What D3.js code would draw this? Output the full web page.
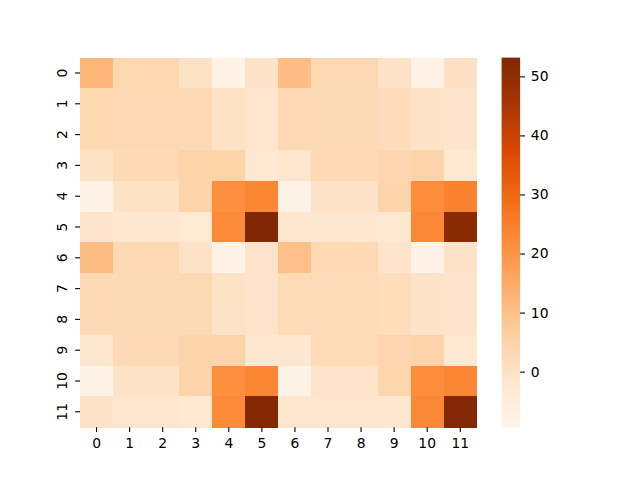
<!DOCTYPE html>
<html>
<head>
<meta charset="utf-8">
<script src="https://cdn.jsdelivr.net/npm/d3@7"></script>
<style>
  html, body { margin: 0; padding: 0; background: #fff; }
  svg { display: block; }
  text { font-family: "DejaVu Sans", sans-serif; font-size: 13.89px; fill: #000; }
</style>
</head>
<body>
<svg id="chart" width="640" height="480"></svg>
<script>
const rowLabels = ["0","1","2","3","4","5","6","7","8","9","10","11"];
const colLabels = ["0","1","2","3","4","5","6","7","8","9","10","11"];
const values = [
  [12.0, 3.8, 3.8, 0.0, -8.0, -0.5, 10.5, 3.2, 3.2, -0.5, -8.0, 0.2],
  [3.5, 3.2, 3.2, 3.0, 0.0, -1.2, 2.8, 2.6, 2.6, 1.8, -0.5, -1.0],
  [3.5, 3.2, 3.2, 3.0, 0.0, -1.2, 2.8, 2.6, 2.6, 1.8, -0.5, -1.0],
  [0.0, 3.0, 3.0, 5.0, 5.2, -2.5, -1.2, 2.8, 2.8, 4.0, 4.8, -2.5],
  [-8.0, 0.0, 0.0, 5.0, 21.5, 23.5, -8.5, -0.5, -0.5, 4.5, 22.0, 24.0],
  [-1.0, -2.0, -2.0, -3.0, 22.5, 53.0, -1.5, -2.0, -2.0, -2.5, 23.0, 51.0],
  [10.5, 3.2, 3.2, -0.5, -8.5, -1.0, 10.0, 3.0, 3.0, -1.0, -8.5, -0.5],
  [2.8, 2.6, 2.6, 2.6, 0.0, -1.0, 2.5, 2.4, 2.4, 1.5, -0.5, -1.0],
  [2.8, 2.6, 2.6, 2.6, -0.3, -1.0, 2.5, 2.3, 2.3, 1.5, -0.5, -1.0],
  [-1.5, 2.8, 2.8, 4.5, 4.8, -2.2, -2.0, 2.5, 2.5, 4.0, 5.0, -2.5],
  [-8.0, -0.5, -0.5, 4.8, 21.5, 23.5, -8.5, -1.0, -1.0, 4.2, 22.0, 23.5],
  [-0.5, -1.5, -1.5, -2.5, 22.5, 52.0, -1.5, -1.5, -1.5, -2.0, 23.0, 52.5]
];
const cbarTicks = [0, 10, 20, 30, 40, 50];
const vmin = -9.41, vmax = 53.18;

// matplotlib "Oranges" colormap (ColorBrewer 9-class, linear segments)
const orangesStops = ["#fff5eb","#fee6ce","#fdd0a2","#fdae6b","#fd8d3c","#f16913","#d94801","#a63603","#7f2704"];

(function () {
const svg = d3.select("#chart");
const mLeft = 80, mRight = 476.8, mTop = 57.6, mBottom = 427.2;
const cbLeft = 501.6, cbRight = 520.1;
const tickLen = 4.86, pad = 4.86;

const x = d3.scaleBand().domain(colLabels).range([mLeft, mRight]).padding(0);
const y = d3.scaleBand().domain(rowLabels).range([mTop, mBottom]).padding(0);
const tScale = d3.scaleLinear().domain([vmin, vmax]).range([0, 1]).clamp(true);
const cmap = d3.scaleLinear()
  .domain(orangesStops.map((_, i) => i / (orangesStops.length - 1)))
  .range(orangesStops)
  .interpolate(d3.interpolateRgb);
const color = v => cmap(tScale(v));

const cells = [];
values.forEach((row, i) => row.forEach((v, j) => cells.push({r: rowLabels[i], c: colLabels[j], v})));

svg.append("g").selectAll("rect").data(cells).join("rect")
  .attr("x", d => x(d.c))
  .attr("y", d => y(d.r))
  .attr("width", x.bandwidth() + 0.3)
  .attr("height", y.bandwidth() + 0.3)
  .attr("fill", d => color(d.v))
  .attr("shape-rendering", "crispEdges");

// x axis
const xAxis = d3.axisBottom(x).tickSize(tickLen).tickPadding(pad + 1);
const gx = svg.append("g").attr("transform", `translate(0,${mBottom})`).call(xAxis);
gx.select(".domain").remove();
gx.selectAll(".tick line").attr("stroke", "#000").attr("stroke-width", 1.1);
gx.selectAll(".tick text").attr("font-family", "DejaVu Sans").attr("font-size", "13.89px").attr("fill", "#000");

// y axis with vertical labels
const yAxis = d3.axisLeft(y).tickSize(tickLen).tickFormat("");
const gy = svg.append("g").attr("transform", `translate(${mLeft},0)`).call(yAxis);
gy.select(".domain").remove();
gy.selectAll(".tick line").attr("stroke", "#000").attr("stroke-width", 1.1);
svg.append("g").selectAll("text").data(rowLabels).join("text")
  .attr("transform", d => `translate(${mLeft - tickLen - pad - 3.7},${y(d) + y.bandwidth() / 2}) rotate(-90)`)
  .attr("text-anchor", "middle")
  .text(d => d);

// colorbar
const defs = svg.append("defs");
const grad = defs.append("linearGradient").attr("id", "cbgrad")
  .attr("x1", "0").attr("y1", "1").attr("x2", "0").attr("y2", "0");
orangesStops.forEach((c, i) => grad.append("stop")
  .attr("offset", (i / (orangesStops.length - 1) * 100) + "%").attr("stop-color", c));
svg.append("rect").attr("x", cbLeft).attr("y", mTop)
  .attr("width", cbRight - cbLeft).attr("height", mBottom - mTop)
  .attr("fill", "url(#cbgrad)");

const cy = d3.scaleLinear().domain([vmin, vmax]).range([mBottom, mTop]);
const cAxis = d3.axisRight(cy).tickValues(cbarTicks).tickSize(tickLen).tickPadding(pad + 1).tickFormat(d3.format("d"));
const gc = svg.append("g").attr("transform", `translate(${cbRight},0)`).call(cAxis);
gc.select(".domain").remove();
gc.selectAll(".tick line").attr("stroke", "#000").attr("stroke-width", 1.1);
gc.selectAll(".tick text").attr("font-family", "DejaVu Sans").attr("font-size", "13.89px").attr("fill", "#000");
})();
</script>
</body>
</html>
